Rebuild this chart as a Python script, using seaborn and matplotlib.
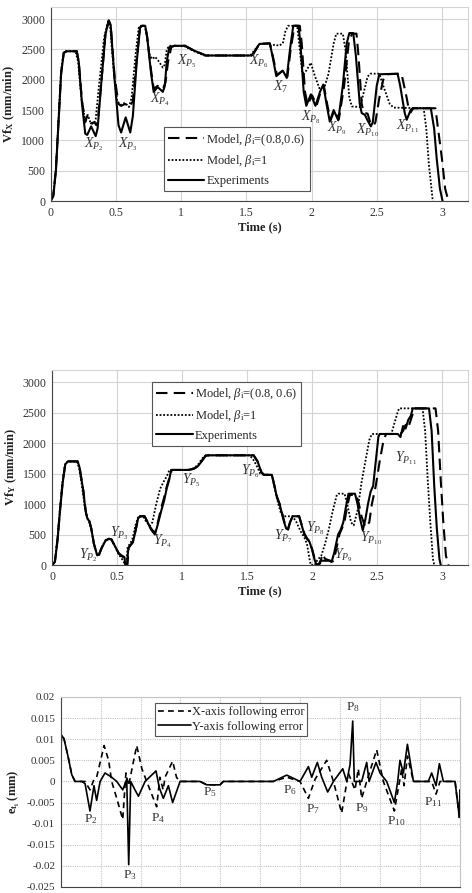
import numpy as np
import pandas as pd
import matplotlib
matplotlib.use("Agg")
import matplotlib.pyplot as plt
import seaborn as sns

# ---------------- data ----------------
# Top panel: X-axis feed rate Vf_X (mm/min) vs time (s)
exp_x = [(0,0),(0.02,80),(0.04,500),(0.06,1300),(0.08,2100),(0.1,2440),(0.12,2470),(0.2,2470),(0.215,2300),(0.24,1600),(0.265,1110),(0.28,1090),(0.31,1230),(0.345,1070),(0.36,1200),(0.39,2000),(0.42,2750),(0.445,2980),(0.46,2900),(0.49,2000),(0.52,1250),(0.54,1130),(0.575,1380),(0.61,1130),(0.63,1400),(0.66,2300),(0.685,2860),(0.7,2890),(0.725,2890),(0.74,2700),(0.77,2100),(0.79,1800),(0.82,1880),(0.86,1800),(0.875,1900),(0.89,2300),(0.91,2540),(0.95,2560),(1.03,2560),(1.1,2480),(1.19,2400),(1.54,2400),(1.56,2450),(1.6,2590),(1.68,2600),(1.7,2400),(1.73,2060),(1.78,2150),(1.81,2030),(1.835,2500),(1.86,2890),(1.9,2890),(1.915,2600),(1.94,1800),(1.96,1570),(1.995,1760),(2.03,1570),(2.065,1800),(2.09,1920),(2.115,1600),(2.14,1310),(2.17,1500),(2.205,1330),(2.24,1900),(2.27,2600),(2.29,2770),(2.32,2770),(2.34,2400),(2.37,1600),(2.385,1450),(2.41,1420),(2.425,1350),(2.455,1230),(2.47,1300),(2.5,1900),(2.52,2090),(2.66,2100),(2.68,1900),(2.715,1450),(2.73,1340),(2.76,1500),(2.775,1530),(2.915,1530),(2.94,1200),(2.96,700),(2.985,200),(3.005,0)]
dot_x = [(0,0),(0.02,100),(0.04,550),(0.06,1350),(0.08,2150),(0.1,2450),(0.12,2470),(0.19,2470),(0.21,2300),(0.235,1700),(0.26,1380),(0.285,1420),(0.305,1290),(0.33,1270),(0.345,1350),(0.37,1900),(0.41,2700),(0.44,2960),(0.455,2900),(0.485,2100),(0.51,1650),(0.53,1580),(0.57,1620),(0.6,1550),(0.62,1700),(0.65,2400),(0.675,2860),(0.69,2890),(0.72,2890),(0.735,2750),(0.76,2400),(0.78,2340),(0.8,2380),(0.83,2300),(0.86,2200),(0.875,2250),(0.89,2500),(0.91,2560),(0.95,2560),(1.03,2550),(1.1,2470),(1.18,2400),(1.53,2400),(1.56,2480),(1.6,2590),(1.66,2600),(1.69,2560),(1.72,2580),(1.75,2560),(1.78,2600),(1.8,2800),(1.82,2890),(1.89,2890),(1.905,2600),(1.93,2100),(1.96,2150),(1.995,2280),(2.02,2100),(2.06,1860),(2.1,1880),(2.13,2100),(2.17,2600),(2.19,2760),(2.24,2760),(2.26,2500),(2.29,1700),(2.31,1560),(2.37,1550),(2.39,1700),(2.43,2050),(2.45,2100),(2.52,2100),(2.55,1900),(2.6,1600),(2.63,1540),(2.86,1530),(2.88,1200),(2.9,600),(2.93,0)]
dash_x = [(0,0),(0.02,90),(0.04,520),(0.06,1320),(0.08,2120),(0.1,2445),(0.12,2470),(0.2,2470),(0.215,2300),(0.24,1650),(0.265,1300),(0.28,1400),(0.31,1280),(0.335,1300),(0.35,1250),(0.36,1300),(0.39,2000),(0.42,2760),(0.445,2970),(0.46,2900),(0.49,2050),(0.52,1600),(0.54,1570),(0.57,1600),(0.61,1560),(0.63,1650),(0.66,2350),(0.685,2860),(0.7,2890),(0.725,2890),(0.74,2700),(0.77,2150),(0.79,1850),(0.82,1900),(0.86,1850),(0.88,1950),(0.9,2300),(0.925,2540),(0.95,2560),(1.03,2560),(1.1,2480),(1.19,2400),(1.54,2400),(1.56,2450),(1.6,2590),(1.68,2600),(1.7,2420),(1.735,2080),(1.785,2160),(1.815,2050),(1.84,2500),(1.87,2890),(1.91,2890),(1.925,2600),(1.95,1800),(1.97,1590),(2.005,1740),(2.04,1580),(2.07,1800),(2.095,1900),(2.12,1600),(2.145,1330),(2.175,1490),(2.21,1350),(2.25,1900),(2.285,2600),(2.31,2760),(2.345,2760),(2.36,2400),(2.385,1600),(2.4,1460),(2.43,1440),(2.45,1300),(2.475,1240),(2.49,1300),(2.52,1700),(2.55,2000),(2.57,2090),(2.69,2100),(2.71,1900),(2.73,1700),(2.745,1520),(2.76,1460),(2.78,1530),(2.95,1530),(2.97,1200),(3.0,700),(3.025,200),(3.05,0)]

# Middle panel: Y-axis feed rate Vf_Y (mm/min) vs time (s)
exp_y = [(0,0),(0.02,50),(0.04,400),(0.06,900),(0.08,1350),(0.1,1650),(0.12,1700),(0.195,1700),(0.21,1600),(0.225,1400),(0.24,1200),(0.25,1000),(0.26,850),(0.27,760),(0.285,720),(0.3,600),(0.32,350),(0.345,160),(0.36,170),(0.38,280),(0.41,400),(0.435,430),(0.455,420),(0.48,320),(0.51,200),(0.53,160),(0.555,130),(0.562,0),(0.575,0),(0.585,280),(0.6,320),(0.62,370),(0.64,550),(0.66,760),(0.675,800),(0.71,800),(0.73,720),(0.76,580),(0.79,500),(0.81,650),(0.84,900),(0.86,1050),(0.88,1250),(0.9,1400),(0.915,1560),(1.05,1560),(1.09,1580),(1.12,1620),(1.15,1700),(1.18,1790),(1.2,1800),(1.55,1800),(1.58,1700),(1.61,1520),(1.63,1480),(1.69,1480),(1.71,1300),(1.73,1100),(1.75,1000),(1.77,820),(1.785,700),(1.8,600),(1.815,580),(1.83,700),(1.85,800),(1.9,800),(1.92,650),(1.94,500),(1.96,430),(1.98,380),(2.0,250),(2.02,80),(2.035,0),(2.05,10),(2.065,70),(2.13,70),(2.15,50),(2.17,200),(2.2,500),(2.22,580),(2.24,700),(2.26,950),(2.28,1170),(2.33,1170),(2.35,1000),(2.37,750),(2.39,570),(2.41,750),(2.43,1000),(2.45,1200),(2.47,1300),(2.49,1700),(2.51,2100),(2.52,2150),(2.66,2150),(2.68,2100),(2.7,2280),(2.72,2240),(2.74,2380),(2.76,2450),(2.775,2570),(2.9,2570),(2.92,2200),(2.94,1300),(2.96,600),(2.98,100),(2.99,0)]
dot_y = [(0,0),(0.02,60),(0.04,450),(0.06,950),(0.08,1400),(0.1,1670),(0.12,1700),(0.19,1700),(0.205,1600),(0.22,1420),(0.235,1200),(0.25,950),(0.26,850),(0.27,780),(0.285,700),(0.3,580),(0.32,350),(0.345,170),(0.36,180),(0.38,290),(0.41,410),(0.435,430),(0.455,420),(0.48,310),(0.51,180),(0.53,120),(0.55,50),(0.555,0),(0.57,0),(0.58,300),(0.6,350),(0.62,450),(0.64,650),(0.66,780),(0.675,800),(0.7,800),(0.72,720),(0.75,640),(0.77,700),(0.8,1000),(0.83,1250),(0.86,1380),(0.88,1450),(0.9,1550),(0.915,1560),(1.05,1560),(1.09,1590),(1.12,1640),(1.15,1740),(1.18,1800),(1.52,1800),(1.55,1720),(1.58,1600),(1.6,1500),(1.63,1480),(1.69,1480),(1.71,1280),(1.74,1000),(1.76,850),(1.78,800),(1.85,800),(1.88,700),(1.91,560),(1.94,450),(1.96,350),(1.98,100),(1.99,0),(2.02,0),(2.04,80),(2.07,150),(2.1,350),(2.13,600),(2.16,900),(2.19,1150),(2.2,1170),(2.25,1170),(2.27,1000),(2.3,700),(2.32,650),(2.35,900),(2.38,1350),(2.41,1700),(2.44,2050),(2.46,2150),(2.61,2150),(2.63,2300),(2.66,2520),(2.67,2570),(2.85,2570),(2.87,2200),(2.89,1400),(2.91,700),(2.93,100),(2.94,0)]
dash_y = [(0,0),(0.02,55),(0.04,420),(0.06,920),(0.08,1370),(0.1,1660),(0.12,1700),(0.195,1700),(0.21,1600),(0.225,1400),(0.24,1200),(0.25,1000),(0.26,850),(0.27,760),(0.285,720),(0.3,600),(0.32,350),(0.345,160),(0.36,170),(0.38,280),(0.41,400),(0.435,430),(0.455,420),(0.48,320),(0.51,190),(0.53,150),(0.555,120),(0.565,0),(0.578,0),(0.588,280),(0.6,320),(0.62,380),(0.64,560),(0.66,760),(0.675,800),(0.71,800),(0.73,720),(0.76,600),(0.79,520),(0.81,680),(0.84,950),(0.86,1100),(0.88,1280),(0.9,1420),(0.92,1560),(1.05,1560),(1.09,1580),(1.12,1620),(1.15,1710),(1.18,1795),(1.2,1800),(1.55,1800),(1.58,1700),(1.61,1520),(1.63,1480),(1.69,1480),(1.71,1300),(1.73,1120),(1.75,1000),(1.77,840),(1.785,720),(1.8,620),(1.815,600),(1.83,700),(1.85,800),(1.9,800),(1.92,660),(1.94,520),(1.96,440),(1.98,390),(2.0,260),(2.02,100),(2.04,0),(2.06,20),(2.08,180),(2.1,100),(2.14,70),(2.16,60),(2.18,200),(2.21,500),(2.23,600),(2.25,720),(2.27,960),(2.29,1150),(2.34,1150),(2.36,1000),(2.38,800),(2.41,620),(2.44,700),(2.46,1000),(2.49,1300),(2.52,1700),(2.55,2050),(2.57,2150),(2.68,2150),(2.7,2200),(2.72,2300),(2.74,2250),(2.77,2450),(2.79,2570),(2.95,2570),(2.97,2200),(2.99,1400),(3.01,700),(3.03,150),(3.05,0)]

# Bottom panel: following errors e_ti (mm)
err_y = [(0,0),(0.005,0.011),(0.025,0.0101),(0.058,0.0055),(0.083,0.0016),(0.108,0),(0.158,0),(0.183,-0.0005),(0.22,-0.007),(0.25,-0.001),(0.27,-0.0045),(0.296,0),(0.333,0.002),(0.383,0.001),(0.421,0),(0.466,-0.002),(0.496,0.0005),(0.511,-0.0197),(0.526,0),(0.558,-0.002),(0.584,-0.0035),(0.634,0),(0.716,0.0025),(0.741,-0.0015),(0.771,-0.004),(0.809,-0.001),(0.841,-0.005),(0.897,0),(1.047,0),(1.097,-0.0008),(1.197,-0.0008),(1.222,0),(1.598,0),(1.698,0.0015),(1.798,0),(1.861,0.0035),(1.886,0.001),(1.928,0.0045),(1.961,0.001),(2.006,-0.0025),(2.049,0),(2.119,0.003),(2.149,0),(2.174,0.004),(2.194,0.0143),(2.206,0),(2.261,0),(2.299,0.0045),(2.317,0),(2.369,0.0045),(2.399,0.002),(2.449,0),(2.507,-0.005),(2.532,0),(2.549,0.005),(2.575,0.002),(2.605,0.0088),(2.65,0),(2.762,0),(2.787,0.002),(2.82,-0.001),(2.845,0.0042),(2.875,0),(2.963,0),(2.995,-0.0085),(3.0,-0.002)]
err_x = [(0,0),(0.005,0.011),(0.025,0.0101),(0.058,0.0055),(0.083,0.0016),(0.108,0),(0.183,0),(0.22,-0.002),(0.25,0.0005),(0.27,0.001),(0.326,0.0085),(0.36,0.005),(0.383,0),(0.421,-0.004),(0.466,-0.009),(0.49,0.002),(0.51,-0.001),(0.571,0.0085),(0.61,0.003),(0.646,0),(0.671,-0.002),(0.721,-0.006),(0.745,0.001),(0.77,-0.002),(0.784,0.001),(0.841,0.0048),(0.87,0.001),(0.892,0),(1.047,0),(1.097,-0.0008),(1.197,-0.0008),(1.222,0),(1.598,0),(1.698,0.001),(1.798,0),(1.861,-0.004),(1.911,0.0005),(1.998,0.005),(2.049,0),(2.111,-0.0075),(2.161,0.002),(2.211,-0.002),(2.236,0.003),(2.261,-0.004),(2.299,0),(2.374,0.0075),(2.424,0),(2.507,-0.007),(2.562,0.003),(2.58,-0.001),(2.605,0.006),(2.65,0),(2.787,0),(2.82,-0.003),(2.85,0),(2.963,0),(2.995,-0.0085),(3.0,-0.002)]

# Point labels (text, time, value)
labels_x = [(r"$X_{P_2}$",0.334,940),(r"$X_{P_3}$",0.594,940),(r"$X_{P_4}$",0.837,1685),(r"$X_{P_5}$",1.048,2312),(r"$X_{P_6}$",1.597,2312),(r"$X_{7}$",1.768,1877),(r"$X_{P_8}$",1.997,1382),(r"$X_{P_9}$",2.194,1200),(r"$X_{P_{10}}$",2.43,1172),(r"$X_{P_{11}}$",2.737,1239)]
labels_y = [(r"$Y_{P_2}$",0.28,164),(r"$Y_{P_3}$",0.518,520),(r"$Y_{P_4}$",0.848,383),(r"$Y_{P_5}$",1.068,1396),(r"$Y_{P_6}$",1.523,1544),(r"$Y_{P_7}$",1.78,465),(r"$Y_{P_8}$",2.028,602),(r"$Y_{P_9}$",2.242,164),(r"$Y_{P_{10}}$",2.457,438),(r"$Y_{P_{11}}$",2.722,1752)]
labels_e = [(r"P$_2$",0.225,-0.0089),(r"P$_3$",0.521,-0.0223),(r"P$_4$",0.734,-0.0086),(r"P$_5$",1.122,-0.0025),(r"P$_6$",1.723,-0.0020),(r"P$_7$",1.893,-0.0065),(r"P$_8$",2.199,0.0176),(r"P$_9$",2.261,-0.0063),(r"P$_{10}$",2.517,-0.0095),(r"P$_{11}$",2.80,-0.0049)]

vf_ticks = [0, 500, 1000, 1500, 2000, 2500, 3000]
time_ticks = [0, 0.5, 1, 1.5, 2, 2.5, 3]
err_ticks = [0.02, 0.015, 0.01, 0.005, 0, -0.005, -0.01, -0.015, -0.02, -0.025]

leg_vf = [r"Model, $\beta_\mathrm{i}$=(0.8,0.6)", r"Model, $\beta_\mathrm{i}$=1", "Experiments"]
leg_vf2 = [r"Model, $\beta_\mathrm{i}$=(0.8, 0.6)", r"Model, $\beta_\mathrm{i}$=1", "Experiments"]
leg_err = ["X-axis following error", "Y-axis following error"]

# ---------------- style ----------------
sns.set_theme(style="white")
plt.rcParams['font.family'] = ['Liberation Serif', 'DejaVu Serif']
plt.rcParams['mathtext.fontset'] = 'custom'
plt.rcParams['mathtext.rm'] = 'Liberation Serif'
plt.rcParams['mathtext.it'] = 'Liberation Serif:italic'
plt.rcParams['mathtext.bf'] = 'Liberation Serif:bold'

DARK = '#222222'
TICKC = '#333333'
GRID = '#d4d4d4'

fig = plt.figure(figsize=(4.72, 8.93), dpi=100)
ax1 = fig.add_axes([50.7/472, 1-201/893, (468-50.7)/472, (201-7)/893])
ax2 = fig.add_axes([52.3/472, 1-565/893, (468-52.3)/472, (565-370)/893])
ax3 = fig.add_axes([60.7/472, 1-887/893, (460-60.7)/472, (887-697)/893])


def df_of(pairs):
    a = np.array(pairs, dtype=float)
    return pd.DataFrame({"t": a[:, 0], "v": a[:, 1]})


def draw_series(ax, pairs, style, lw, label):
    sns.lineplot(data=df_of(pairs), x="t", y="v", ax=ax, sort=False, estimator=None,
                 color='black', lw=lw, linestyle=style, label=label)


def style_axes(ax, grid_ls='-', gridc=GRID, tick_fs=8.5):
    ax.set_facecolor('white')
    ax.grid(True, color=gridc, lw=0.8, linestyle=grid_ls)
    ax.set_axisbelow(True)
    for s in ['top', 'right']:
        ax.spines[s].set_color(gridc)
        ax.spines[s].set_linewidth(0.8)
        ax.spines[s].set_linestyle(grid_ls)
    for s in ['left', 'bottom']:
        ax.spines[s].set_color('#444444')
        ax.spines[s].set_linewidth(0.8)
    ax.tick_params(axis='both', labelsize=tick_fs, colors=TICKC, length=2.5, direction='in', pad=4)


DASH = (0, (5.5, 3.0))
DOT = (0, (1.0, 1.0))

for ax, d, o, e, leg, ylab, labs in [
        (ax1, dash_x, dot_x, exp_x, leg_vf, r'Vf$_\mathbf{X}$ (mm/min)', labels_x),
        (ax2, dash_y, dot_y, exp_y, leg_vf2, r'Vf$_\mathbf{Y}$ (mm/min)', labels_y)]:
    draw_series(ax, d, DASH, 1.5, leg[0])
    draw_series(ax, o, DOT, 1.3, leg[1])
    draw_series(ax, e, '-', 1.5, leg[2])
    ax.set_xlim(0, 3.2)
    ax.set_ylim(0, 3200)
    ax.set_xticks(time_ticks)
    ax.set_xticklabels(['0', '0.5', '1', '1.5', '2', '2.5', '3'])
    ax.set_yticks(vf_ticks)
    style_axes(ax)
    ax.set_xlabel('Time (s)', fontsize=9, fontweight='bold', color=DARK, labelpad=2)
    ax.set_ylabel(ylab, fontsize=9, fontweight='bold', color=DARK, labelpad=3)
    for txt, tx, ty in labs:
        ax.text(tx, ty, txt, fontsize=10, ha='center', va='center', color='#333333')

leg1 = ax1.legend(loc='lower left', bbox_to_anchor=(0.271, 0.05), fontsize=9,
                  frameon=True, fancybox=False, edgecolor='#555555', framealpha=1,
                  handlelength=2.9, handletextpad=0.15, borderpad=0.35, labelspacing=0.45,
                  borderaxespad=0)
leg1.get_frame().set_linewidth(0.8)
leg2 = ax2.legend(loc='upper left', bbox_to_anchor=(0.24, 0.938), fontsize=9,
                  frameon=True, fancybox=False, edgecolor='#555555', framealpha=1,
                  handlelength=2.9, handletextpad=0.15, borderpad=0.35, labelspacing=0.45,
                  borderaxespad=0)
leg2.get_frame().set_linewidth(0.8)

# bottom panel
draw_series(ax3, err_x, (0, (3.5, 2.5)), 1.2, leg_err[0])
draw_series(ax3, err_y, '-', 1.2, leg_err[1])
ax3.set_xlim(0, 3.0)
ax3.set_ylim(-0.025, 0.02)
ax3.set_xticks(np.arange(0, 3.01, 0.3))
ax3.set_xticklabels([])
ax3.set_yticks(err_ticks)
ax3.set_yticklabels(['0.02', '0.015', '0.01', '0.005', '0', '-0.005', '-0.01', '-0.015', '-0.02', '-0.025'])
style_axes(ax3, grid_ls=(0, (1, 1)), gridc='#c4c4c4', tick_fs=8)
ax3.set_xlabel('')
ax3.set_ylabel(r'e$_{\mathbf{t}_\mathbf{i}}$ (mm)', fontsize=9, fontweight='bold', color=DARK, labelpad=3)
for txt, tx, ty in labels_e:
    ax3.text(tx, ty, txt, fontsize=9.5, ha='center', va='center', color='#333333')
leg3 = ax3.legend(loc='upper left', bbox_to_anchor=(0.236, 0.969), fontsize=9,
                  frameon=True, fancybox=False, edgecolor='#555555', framealpha=1,
                  handlelength=2.6, handletextpad=0.1, borderpad=0.25, labelspacing=0.2,
                  borderaxespad=0)
leg3.get_frame().set_linewidth(0.8)

fig.savefig('out.png', dpi=100, facecolor='white')
